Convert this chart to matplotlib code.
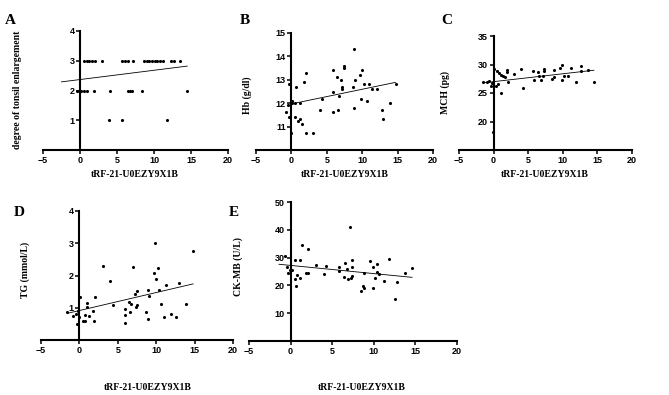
import matplotlib
matplotlib.use("Agg")
import matplotlib.pyplot as plt
import numpy as np

# ---- data ----
xlab = "tRF-21-U0EZY9X1B"

# A: degree of tonsil enlargement
a_x = [0.54, 0.9, 1.26, 1.62, 1.98, 2.97, 5.68, 6.12, 6.49, 7.12, 8.65, 9.0, 9.37,
       9.73, 10.1, 10.45, 10.8, 11.17, 12.34, 12.7, 13.5,
       -0.4, -0.1, 0.2, 0.5, 0.9, 1.9, 4.1, 6.5, 6.7, 7.0, 8.4, 14.4,
       3.9, 5.7, 11.8]
a_y = [3]*21 + [2]*12 + [1]*3

# B: Hb (g/dl)
b_x = [-0.28, 0.71, 2.03, 1.84, 5.85, 8.91, 7.4, 7.4, 6.5, 6.98, 9.66, 10.04,
       9.05, 8.63, 7.21, 7.21, 5.89, 6.74, 10.23, 10.89, 11.36, 12.02, 14.76,
       9.86, 10.61, 4.34, 4.01, 5.85, 6.65, 8.91, 12.73, 13.86, 12.97, 0.14,
       0.14, -0.5, 0.52, 1.18, -0.7, -0.38, 0.52, 1.18, 0.9, 1.51, -0.02,
       2.03, 3.1]
b_y = [12.82, 12.7, 13.31, 12.9, 13.41, 14.31, 13.6, 13.51, 13.11, 13.0, 13.2,
       13.41, 13.0, 12.7, 12.7, 12.6, 12.5, 12.32, 12.82, 12.82, 12.6, 12.6,
       12.82, 12.2, 12.1, 12.2, 11.71, 11.61, 11.71, 11.81, 11.71, 12.0, 11.33,
       12.1, 12.0, 11.91, 12.0, 12.0, 11.61, 11.41, 11.41, 11.33, 11.24, 11.11,
       10.72, 10.72, 10.72]

# C: MCH (pg)
c_x = [-0.14, 0.05, 0.43, 0.77, 1.1, 1.39, 1.6, 1.87, 1.97, 2.06, 2.99, 3.98,
       4.27, 5.7, 5.8, 6.38, 6.57, 6.86, 7.24, 7.24, 7.15, 8.49, 8.78, 8.78,
       9.54, 9.93, 9.83, 10.12, 10.7, 11.2, 11.85, 12.6, 12.7, 13.67, 14.5,
       -1.49, -0.91, -0.62, -0.43, 0.34, 0.63, 1.1, -0.2]
c_y = [18.1, 29.2, 28.9, 28.5, 28.2, 28.0, 27.8, 28.6, 29.0, 27.0, 28.4, 29.2,
       25.9, 28.9, 27.2, 28.6, 28.0, 27.2, 28.9, 29.2, 28.0, 27.5, 27.8, 29.0,
       29.4, 29.9, 27.2, 27.9, 27.9, 29.4, 26.9, 28.8, 29.8, 29.0, 26.9,
       26.9, 26.9, 27.1, 26.3, 26.3, 26.6, 25.05, 26.8]

# D: TG (mmol/L)
d_x = [14.8, 3.03, 6.93, 3.99, 0.1, 1.99, 1.04, 1.04, 1.82, -1.56, -0.78, -0.34,
       0.52, 0.69, 0.69, 1.3, 1.9, 4.33, 5.89, 5.89, 5.97, 6.49, 6.67, 6.58,
       7.36, 7.53, 7.27, 7.45, 8.66, 8.92, 8.92, 9.0, 9.7, 10.22, 9.96, 10.65,
       11.0, 10.4, 11.34, 11.9, 12.6, 12.99, 13.94, 9.9, -0.5, 0.0, -0.2]
d_y = [2.75, 2.29, 2.27, 1.83, 1.32, 1.32, 1.14, 1.03, 0.89, 0.86, 0.74, 0.5,
       0.58, 0.6, 0.78, 0.74, 0.6, 1.1, 0.95, 0.76, 0.52, 1.18, 1.12, 0.86,
       1.03, 1.07, 1.42, 1.53, 0.86, 0.64, 1.55, 1.36, 2.09, 2.22, 1.9, 1.13,
       0.72, 1.55, 1.72, 0.82, 0.7, 1.77, 1.12, 3.0, 0.8, 0.72, 0.9]

# E: CK-MB (U/L)
e_x = [7.16, 1.4, 2.04, -0.68, 0.52, 1.16, 3.0, 4.28, -0.44, -0.12, -0.36, 0.12,
       0.76, 1.16, 0.52, 0.68, 1.8, 2.04, 3.96, 5.8, 5.8, 6.52, 6.76, 6.44,
       6.92, 7.24, 7.32, 7.32, 7.32, 8.84, 8.52, 8.84, 8.76, 9.96, 9.56, 9.88,
       10.36, 10.12, 10.44, 10.68, 11.24, 11.88, 12.76, 12.52, 13.72, 14.6]
e_y = [41.0, 34.5, 33.1, 30.5, 29.0, 29.0, 27.2, 26.9, 26.6, 25.7, 24.3, 25.4,
       23.8, 22.8, 22.2, 19.7, 24.5, 24.5, 24.2, 26.6, 25.2, 27.9, 25.8, 23.1,
       22.4, 22.8, 23.3, 29.2, 26.6, 24.6, 18.0, 19.2, 19.9, 19.0, 28.8, 26.6,
       27.6, 22.8, 24.8, 24.0, 21.6, 29.6, 21.3, 15.2, 24.5, 26.3]

# regression lines: intercept, slope, x range
fit_b0 = [2.368, 11.97, 26.99, 0.914, 27.19]
fit_m = [0.0312, 0.0626, 0.1384, 0.0558, -0.294]
fit_lo = [-2.5, 0.0, -1.4, -1.5, -1.4]
fit_hi = [14.5, 14.7, 14.5, 14.8, 14.6]

letters = ["A", "B", "C", "D", "E"]
ylabels = ["degree of tonsil enlargement", "Hb (g/dl)", "MCH (pg)",
           "TG (mmol/L)", "CK-MB (U/L)"]
ylims = [(0, 4), (10, 15), (15, 35), (0, 4), (0, 50)]
yticks = [[1, 2, 3, 4], [11, 12, 13, 14, 15], [20, 25, 30, 35],
          [1, 2, 3, 4], [10, 20, 30, 40, 50]]
xticks = [-5, 0, 5, 10, 15, 20]
xs = [a_x, b_x, c_x, d_x, e_x]
ys = [a_y, b_y, c_y, d_y, e_y]

W, H = 669, 395
# axes boxes in pixels: left, right, top, bottom
boxes = [(43, 228, 31, 150), (256, 433, 33, 150), (459, 632, 36, 150),
         (41, 233, 211, 340), (249, 457, 202, 341)]
# label positions in pixels
ylab_pos = [(22, 90), (252, 95), (450, 92), (30, 270), (243, 267)]
xlab_pos = [(135, 170), (345, 170), (545, 170), (148, 383), (362, 383)]
let_pos = [(5, 24), (240, 24), (441, 24), (14, 216), (229, 216)]

tickfont = {"family": "Liberation Sans", "weight": "bold", "size": 6.5}
labfont = {"family": "Liberation Serif", "weight": "bold", "size": 7}

fig = plt.figure(figsize=(W/100, H/100), dpi=100)

for i in range(5):
    l, r, t, b = boxes[i]
    ax = fig.add_axes([l/W, 1 - b/H, (r - l)/W, (b - t)/H])
    ax.scatter(xs[i], ys[i], s=5, c="black", linewidths=0, zorder=3)
    xx = np.array([fit_lo[i], fit_hi[i]])
    ax.plot(xx, fit_b0[i] + fit_m[i]*xx, color="black", lw=0.6, zorder=2)
    ax.set_xlim(-5, 20)
    ax.set_ylim(*ylims[i])
    ax.set_xticks(xticks)
    ax.set_yticks(yticks[i])
    for s in ["top", "right"]:
        ax.spines[s].set_visible(False)
    ax.spines["left"].set_position(("data", 0))
    ax.spines["left"].set_linewidth(1.5)
    ax.spines["bottom"].set_linewidth(1.5)
    ax.tick_params(axis="both", length=3, width=1.1, pad=1)
    for lb in ax.get_xticklabels() + ax.get_yticklabels():
        lb.set_fontproperties(tickfont)
    ax.set_xlabel(xlab, fontdict=labfont)
    ax.xaxis.set_label_coords(xlab_pos[i][0]/W, 1 - xlab_pos[i][1]/H,
                              transform=fig.transFigure)
    ax.set_ylabel(ylabels[i], fontdict=labfont)
    ax.yaxis.set_label_coords(ylab_pos[i][0]/W, 1 - ylab_pos[i][1]/H,
                              transform=fig.transFigure)
    fig.text(let_pos[i][0]/W, 1 - let_pos[i][1]/H, letters[i],
             family="Liberation Serif", weight="bold", size=11,
             ha="left", va="baseline")

fig.savefig("out.png", dpi=100, facecolor="white")
